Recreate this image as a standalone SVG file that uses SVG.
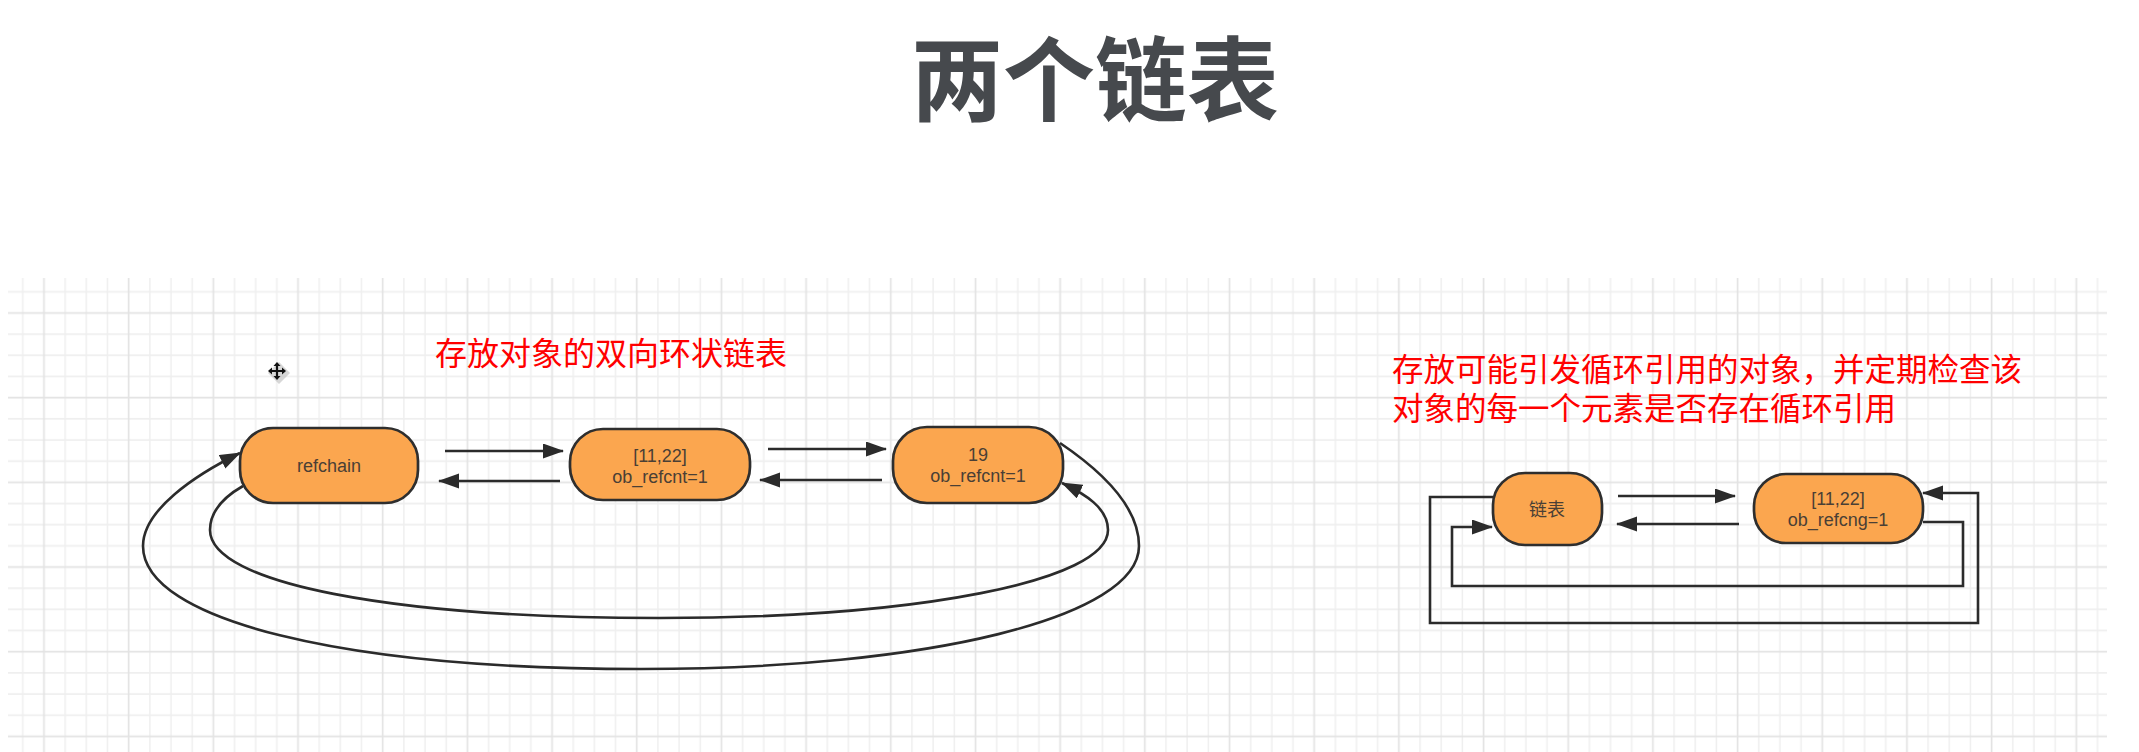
<svg xmlns="http://www.w3.org/2000/svg" width="2139" height="752" viewBox="0 0 2139 752">
  <style>
    .node { fill: #fba64f; stroke: #2e2e2e; stroke-width: 2.7; }
    .lbl { font-family: "Liberation Sans", "Noto Sans CJK SC", sans-serif; font-size: 18px; fill: #4a3f35; text-anchor: middle; }
    .lblcjk { font-family: "Noto Sans CJK SC", sans-serif; font-size: 18px; fill: #4a3f35; text-anchor: middle; }
    .conn { fill: none; stroke: #2b2b2b; stroke-width: 2.6; marker-end: url(#arr); }
    .red { font-family: "Noto Sans CJK SC", sans-serif; fill: #ff0000; }
    .minor { stroke: #efefef; stroke-width: 1.5; }
    .major { stroke: #e3e3e3; stroke-width: 1.7; }
  </style>
  <defs>
    <marker id="arr" markerUnits="userSpaceOnUse" markerWidth="22" markerHeight="16" refX="20" refY="7.5" orient="auto">
      <path d="M0,0 L21,7.5 L0,15 z" fill="#2b2b2b"/>
    </marker>
    <pattern id="grid" patternUnits="userSpaceOnUse" x="33.4" y="302.4" width="84.68" height="84.68">
      <line class="minor" x1="31.755" y1="0" x2="31.755" y2="84.68"/>
      <line class="minor" x1="52.925" y1="0" x2="52.925" y2="84.68"/>
      <line class="minor" x1="74.095" y1="0" x2="74.095" y2="84.68"/>
      <line class="minor" x1="0" y1="31.755" x2="84.68" y2="31.755"/>
      <line class="minor" x1="0" y1="52.925" x2="84.68" y2="52.925"/>
      <line class="minor" x1="0" y1="74.095" x2="84.68" y2="74.095"/>
      <line class="major" x1="10.585" y1="0" x2="10.585" y2="84.68"/>
      <line class="major" x1="0" y1="10.585" x2="84.68" y2="10.585"/>
    </pattern>
  </defs>

  <rect x="0" y="0" width="2139" height="752" fill="#ffffff"/>
  <rect x="8" y="278" width="2099" height="474" fill="url(#grid)"/>

  <text x="1095" y="114" font-family="Noto Sans CJK SC, sans-serif" font-size="92" font-weight="bold" fill="#46494d" text-anchor="middle">两个链表</text>

  <text class="red" x="435" y="365" font-size="32">存放对象的双向环状链表</text>
  <text class="red" font-size="31.5"><tspan x="1392" y="381">存放可能引发循环引用的对象，并定期检查该</tspan><tspan x="1392" y="420">对象的每一个元素是否存在循环引用</tspan></text>

  <g id="cursor">
    <polygon points="279,362 290,373 279,384 268,373" fill="#bdbdbd" opacity="0.6"/>
    <path d="M277,364 L277,378 M270,371 L284,371" stroke="#111" stroke-width="2.2"/>
    <polygon points="277,362 273.5,366 280.5,366" fill="#111"/>
    <polygon points="277,380 273.5,376 280.5,376" fill="#111"/>
    <polygon points="268,371 272,367.5 272,374.5" fill="#111"/>
    <polygon points="286,371 282,367.5 282,374.5" fill="#111"/>
  </g>

  <g id="connectors">
    <path class="conn" d="M445,451 L563,451"/>
    <path class="conn" d="M560,481 L439,481"/>
    <path class="conn" d="M768,449 L886,449"/>
    <path class="conn" d="M882,480 L760,480"/>
    <path class="conn" d="M1060,443 C1100,470 1139,505 1139,546 C1139,617 930,669 641,669 C342,669 143,620 143,546 C143,510 195,475 240,453"/>
    <path class="conn" d="M243,486 C222,498 210,512 210,530 C210,583 390,618 659,618 C919,618 1108,581 1108,530 C1108,508 1085,494 1062,483"/>
    <path class="conn" d="M1618,496 L1735,496"/>
    <path class="conn" d="M1739,524 L1617,524"/>
    <path class="conn" d="M1493,497 L1430,497 L1430,623 L1978,623 L1978,493 L1923,493"/>
    <path class="conn" d="M1923,522 L1963,522 L1963,586 L1452,586 L1452,527 L1492,527"/>
  </g>

  <g id="node-refchain">
    <rect class="node" x="240" y="428" width="178" height="75" rx="33" ry="33"/>
    <text class="lbl" x="329" y="472">refchain</text>
  </g>
  <g id="node-list1">
    <rect class="node" x="570" y="429" width="180" height="71" rx="33" ry="33"/>
    <text class="lbl" x="660" y="462">[11,22]</text>
    <text class="lbl" x="660" y="483">ob_refcnt=1</text>
  </g>
  <g id="node-19">
    <rect class="node" x="893" y="427" width="170" height="76" rx="34" ry="34"/>
    <text class="lbl" x="978" y="461">19</text>
    <text class="lbl" x="978" y="482">ob_refcnt=1</text>
  </g>
  <g id="node-linked">
    <rect class="node" x="1493" y="473" width="109" height="72" rx="32" ry="32"/>
    <text class="lblcjk" x="1547" y="516">链表</text>
  </g>
  <g id="node-list2">
    <rect class="node" x="1754" y="474" width="169" height="69" rx="32" ry="32"/>
    <text class="lbl" x="1838" y="505">[11,22]</text>
    <text class="lbl" x="1838" y="526">ob_refcng=1</text>
  </g>
</svg>
